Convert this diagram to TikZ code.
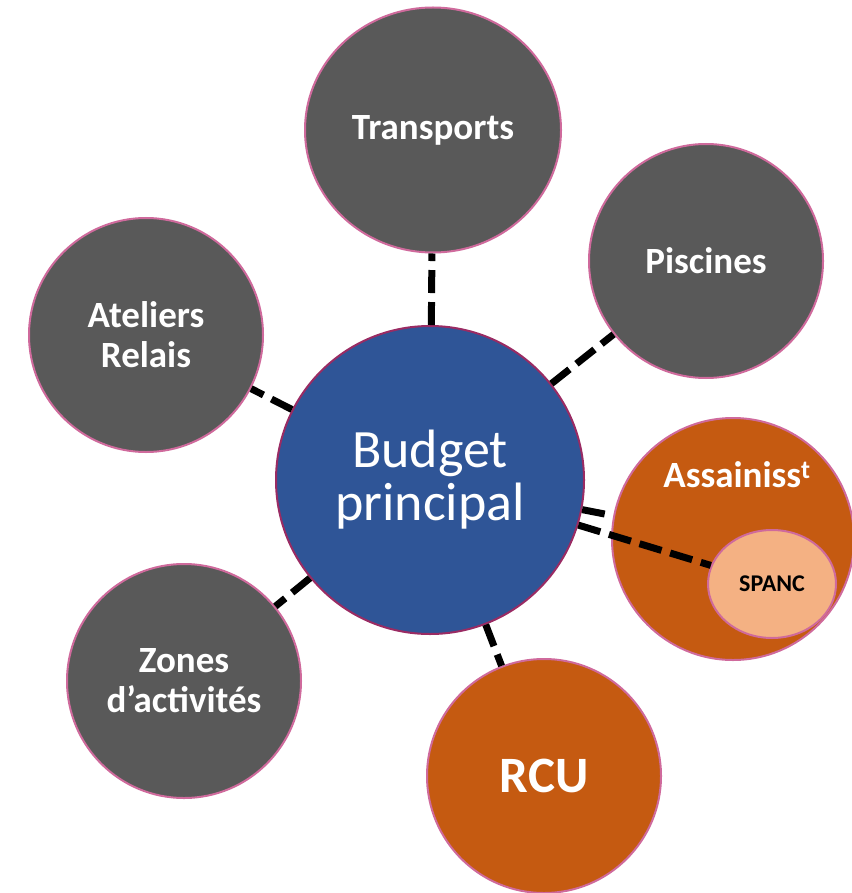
\documentclass[tikz,border=0pt]{standalone}
\usepackage{fontspec}
\setmainfont{Carlito}
\definecolor{satgray}{HTML}{595959}
\definecolor{mainblue}{HTML}{2F5597}
\definecolor{burnt}{HTML}{C55A11}
\definecolor{peach}{HTML}{F4B183}
\definecolor{rimpink}{HTML}{CF6A9C}
\definecolor{rimplum}{HTML}{9A2B63}
\usetikzlibrary{shapes.geometric}
\tikzset{
  sat/.style={circle, draw=rimpink, line width=2pt, fill=satgray, inner sep=0pt, minimum size=234pt,
              text=white, align=center, font=\bfseries\fontsize{37}{40}\selectfont},
  hub/.style={circle, draw=rimplum, line width=2pt, fill=mainblue, inner sep=0pt, minimum size=308pt,
              text=white, align=center, font=\fontsize{54}{53}\selectfont},
  budget/.style={sat, fill=burnt},
  inner/.style={ellipse, draw=rimpink, line width=2pt, fill=peach, inner sep=0pt,
                minimum width=128pt, minimum height=108pt, text=black, font=\bfseries\fontsize{24}{26}\selectfont},
  link/.style={draw=black, line width=7pt, dash pattern=on 23pt off 9pt}
}
\begin{document}
\begin{tikzpicture}[x=1pt, y=-1pt]
  \useasboundingbox (0,0) rectangle (851,893);
  % satellites around the main budget
  \node[sat, ellipse, minimum width=256pt, minimum height=245pt] (transports) at (433,130) {Transports};
  \node[sat] (piscines) at (706,261) {Piscines};
  \node[sat] (ateliers) at (146,335) {Ateliers\\Relais};
  \node[sat] (zones) at (184,681) {Zones\\d’activités};
  \node[budget, font=\bfseries\fontsize{51}{56}\selectfont] (rcu) at (544,776) {RCU};
  \node[budget, minimum size=242pt] (assain) at (733,539) {};
  \node[text=white, font=\bfseries\fontsize{37}{40}\selectfont] (assainlab) at (737,475) {Assainiss\textsuperscript{t}};
  % central node
  \node[hub] (main) at (430,480) {Budget\\principal};
  % dashed links
  \draw[link] (main) -- (transports);
  \draw[link] (main) -- (piscines);
  \draw[link] (main) -- (ateliers);
  \draw[link] (main) -- (zones);
  \draw[link] (main) -- (rcu);
  \draw[link] (main) -- (assain);
  \node[inner] (spanc) at (772,584) {SPANC};
  \draw[link] (main) -- (spanc);
\end{tikzpicture}
\end{document}
